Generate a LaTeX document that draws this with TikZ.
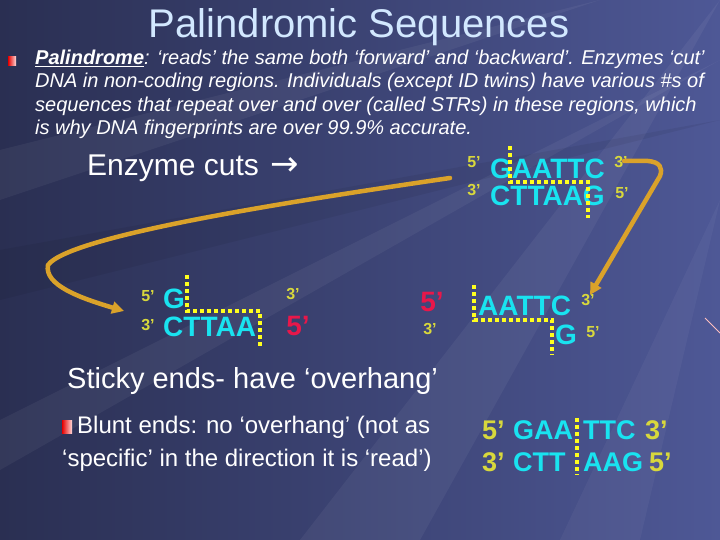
\documentclass[tikz,border=0pt]{standalone}
\usepackage{fontspec}
\setmainfont{Liberation Sans}
\newfontfamily\arrowfont{DejaVu Sans}
\usetikzlibrary{arrows.meta}
\definecolor{bgA}{HTML}{2A2F52}
\definecolor{bgB}{HTML}{4E5896}
\definecolor{titlec}{HTML}{D2E8FF}
\definecolor{dnac}{HTML}{19E3F0}
\definecolor{primec}{HTML}{D8D83C}
\definecolor{redc}{HTML}{E8174A}
\definecolor{goldc}{HTML}{DAA22A}
\definecolor{cutc}{HTML}{FFFF1E}
\tikzset{
  lbl/.style={inner sep=0pt, anchor=west, text=white},
  body/.style={lbl, font=\fontsize{20}{22}\selectfont\itshape},
  dna/.style={inner sep=0pt, text=dnac, font=\fontsize{28}{30}\selectfont\bfseries},
  bdna/.style={inner sep=0pt, anchor=west, text=dnac, font=\fontsize{27}{29}\selectfont\bfseries},
  prime/.style={inner sep=0pt, text=primec, font=\fontsize{16}{18}\selectfont\bfseries},
  bigprime/.style={inner sep=0pt, anchor=west, text=primec, font=\fontsize{27}{29}\selectfont\bfseries},
  redprime/.style={inner sep=0pt, text=redc, font=\fontsize{28}{30}\selectfont\bfseries},
  cutline/.style={draw=cutc, line width=4pt, dash pattern=on 4pt off 3pt},
  goldline/.style={draw=goldc, line width=4.5pt, line cap=round},
  bulletsq/.style 2 args={inner sep=0pt, minimum width=#1, minimum height=#2, left color=red!90!black, right color=red!15!white, draw=none},
}
\begin{document}
\begin{tikzpicture}[x=1pt,y=-1pt]
\useasboundingbox (0,0) rectangle (720,540);
% background
\shade[shading angle=120, left color=bgA, right color=bgB] (0,0) rectangle (720,540);
\fill[white, opacity=0.05] (720,0) -- (300,540) -- (420,540) -- cycle;
\fill[white, opacity=0.05] (720,60) -- (0,420) -- (0,470) -- cycle;
\fill[black, opacity=0.06] (720,120) -- (0,250) -- (0,300) -- cycle;
\fill[white, opacity=0.04] (720,200) -- (560,540) -- (640,540) -- cycle;
\fill[white, opacity=0.05] (600,0) -- (0,150) -- (0,200) -- cycle;
\draw[pink, line width=1pt] (705,318) -- (720,333);

% title
\node[inner sep=0pt, text=titlec, font=\fontsize{40}{44}\selectfont] (title) at (359,27) {Palindromic Sequences};

% bullet 1
\node[bulletsq={8pt}{9pt}] (b1) at (12,61) {};
\node[body] (l1) at (35,59) {\textbf{\underline{Palindrome}}: ‘reads’ the same both ‘forward’ and ‘backward’. Enzymes ‘cut’};
\node[body] (l2) at (35,82) {DNA in non-coding regions. Individuals (except ID twins) have various \#s of};
\node[body] (l3) at (35,106) {sequences that repeat over and over (called STRs) in these regions, which};
\node[body] (l4) at (35,129) {is why DNA fingerprints are over 99.9\% accurate.};

% enzyme cuts
\node[lbl, font=\fontsize{30}{33}\selectfont] (enz) at (87,168) {Enzyme cuts\hspace{3pt} {\arrowfont\fontsize{34}{36}\selectfont →}};

% top DNA
\node[prime] (t5a) at (474,162) {5’};
\node[dna, anchor=west] (tseq1) at (490,169) {GAATTC};
\node[prime] (t3a) at (621,162) {3’};
\node[prime] (t3b) at (474,190) {3’};
\node[dna, anchor=west] (tseq2) at (490,196) {CTTAAG};
\node[prime] (t5b) at (622,193) {5’};
\coordinate (tc1) at (510,146);
\coordinate (tc2) at (510,182);
\coordinate (tc3) at (588,182);
\coordinate (tc4) at (588,218);
\draw[cutline] (tc1) -- (tc2) -- (tc3) -- (tc4);

% left fragment
\node[prime] (m5a) at (148,296) {5’};
\node[dna, anchor=west] (mG) at (163,299) {G};
\node[prime] (m3a) at (148,325) {3’};
\node[dna, anchor=west] (mC) at (163,327) {CTTAA};
\coordinate (mc1) at (187,275);
\coordinate (mc2) at (187,311);
\coordinate (mc3) at (260,311);
\coordinate (mc4) at (260,348);
\draw[cutline] (mc1) -- (mc2) -- (mc3) -- (mc4);
\node[prime] (m3b) at (293,294) {3’};
\node[redprime] (m5b) at (298,326) {5’};

% right fragment
\node[redprime] (r5a) at (432,302) {5’};
\node[prime] (r3a) at (430,329) {3’};
\node[dna, anchor=west] (rA) at (478,306) {AATTC};
\node[dna, anchor=west] (rG) at (555,335) {G};
\node[prime] (r3b) at (588,300) {3’};
\node[prime] (r5b) at (593,332) {5’};
\coordinate (rc1) at (474,285);
\coordinate (rc2) at (474,320);
\coordinate (rc3) at (552,320);
\coordinate (rc4) at (552,355);
\draw[cutline] (rc1) -- (rc2) -- (rc3) -- (rc4);

% gold arrows
\coordinate (gs1) at (450,178);
\coordinate (gm1) at (48,265);
\coordinate (ge1) at (124,311);
\draw[goldline, -{Triangle[length=12pt,width=12pt]}] (gs1) .. controls (300,200) and (70,235) .. (gm1) .. controls (44,285) and (80,298) .. (ge1);
\coordinate (gs2) at (624,161);
\coordinate (gm2) at (660,176);
\coordinate (ge2) at (590,295);
\draw[goldline, -{Triangle[length=12pt,width=12pt]}] (gs2) -- (648,161) .. controls (660,162) and (663,168) .. (gm2) -- (ge2);

% sticky
\node[lbl, font=\fontsize{29}{32}\selectfont] (sticky) at (67,381) {Sticky ends- have ‘overhang’};

% blunt
\node[bulletsq={10pt}{13pt}] (b2) at (67,427) {};
\node[lbl, font=\fontsize{24}{27}\selectfont] (bl1) at (77,427) {Blunt ends: no ‘overhang’ (not as};
\node[lbl, font=\fontsize{24}{27}\selectfont] (bl2) at (62,460) {‘specific’ in the direction it is ‘read’)};

% bottom right
\node[bigprime] (bp1) at (482,430) {5’};
\node[bdna] (bs1) at (513,430) {GAA};
\node[bdna] (bs2) at (583,430) {TTC};
\node[bigprime] (bp2) at (645,430) {3’};
\node[bigprime] (bp3) at (482,462) {3’};
\node[bdna] (bs3) at (513,462) {CTT};
\node[bdna] (bs4) at (583,462) {AAG};
\node[bigprime] (bp4) at (649,462) {5’};
\coordinate (bc1) at (577,418);
\coordinate (bc2) at (577,475);
\draw[cutline] (bc1) -- (bc2);
\end{tikzpicture}
\end{document}
